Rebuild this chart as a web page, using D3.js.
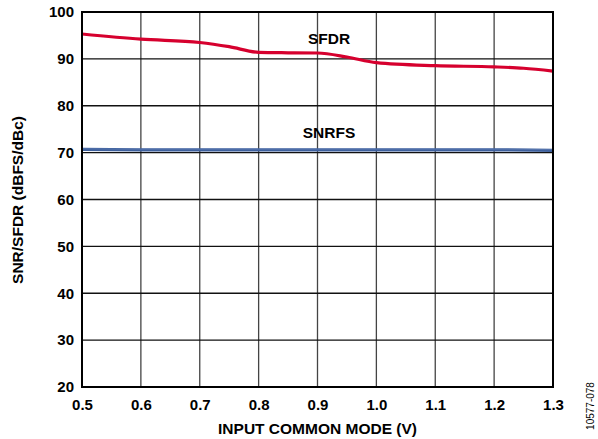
<!DOCTYPE html>
<html><head><meta charset="utf-8">
<script src="https://cdn.jsdelivr.net/npm/d3@7"></script>
<style>body{margin:0;background:#fff}svg{display:block}text{font-family:"Liberation Sans",Arial,sans-serif}</style>
</head><body><svg id="c" width="598" height="439"></svg>
<script>
const xTicks = [0.5,0.6,0.7,0.8,0.9,1.0,1.1,1.2,1.3];
const yTicks = [20,30,40,50,60,70,80,90,100];
const sfdrX = [0.5,0.6,0.7,0.75,0.8,0.85,0.9,0.95,1.0,1.1,1.2,1.25,1.3];
const sfdrY = [95.3,94.2,93.5,92.6,91.4,91.3,91.25,90.4,89.2,88.55,88.3,88.0,87.4];
const snrX = [0.5,0.6,0.7,0.8,0.9,1.0,1.1,1.2,1.3];
const snrY = [70.7,70.6,70.6,70.6,70.6,70.6,70.6,70.6,70.5];

const svg = d3.select("#c");
const L=82,R=553,T=12,B=387;
const x = d3.scaleLinear().domain([0.5,1.3]).range([L,R]);
const y = d3.scaleLinear().domain([20,100]).range([B,T]);

// grid
svg.append("g").selectAll("line").data(xTicks.slice(1,-1)).join("line")
  .attr("x1",d=>x(d)).attr("x2",d=>x(d)).attr("y1",T).attr("y2",B)
  .attr("stroke","#444").attr("stroke-width",1.3);
svg.append("g").selectAll("line").data(yTicks.slice(1,-1)).join("line")
  .attr("x1",L).attr("x2",R).attr("y1",d=>y(d)).attr("y2",d=>y(d))
  .attr("stroke","#111").attr("stroke-width",1.3);

const line = d3.line().curve(d3.curveMonotoneX);
svg.append("path").attr("d",line(snrX.map((v,i)=>[x(v),y(snrY[i])])))
  .attr("fill","none").attr("stroke","#3d5f9c").attr("stroke-width",3.2);
svg.append("path").attr("d",line(snrX.map((v,i)=>[x(v),y(snrY[i])-0.6])))
  .attr("fill","none").attr("stroke","#6f8cc0").attr("stroke-width",0.8).attr("opacity",0.6);
svg.append("path").attr("d",line(sfdrX.map((v,i)=>[x(v),y(sfdrY[i])])))
  .attr("fill","none").attr("stroke","#d6002e").attr("stroke-width",3.2);

svg.append("rect").attr("x",L).attr("y",T).attr("width",R-L).attr("height",B-T)
  .attr("fill","none").attr("stroke","#000").attr("stroke-width",2);

const yAxis = d3.axisLeft(y).tickValues(yTicks).tickSize(0).tickPadding(8).tickFormat(d3.format("d"));
const gy = svg.append("g").attr("transform",`translate(${L},0)`).call(yAxis);
gy.select(".domain").remove();
gy.selectAll("text").attr("font-size","15px").attr("font-weight","bold").attr("fill","#000")
  .attr("font-family","'Liberation Sans',Arial,sans-serif");

const xAxis = d3.axisBottom(x).tickValues(xTicks).tickSize(0).tickPadding(12).tickFormat(d3.format(".1f"));
const gx = svg.append("g").attr("transform",`translate(0,${B})`).call(xAxis);
gx.select(".domain").remove();
gx.selectAll("text").attr("font-size","15px").attr("font-weight","bold").attr("fill","#000")
  .attr("font-family","'Liberation Sans',Arial,sans-serif");

svg.append("text").attr("x",(L+R)/2).attr("y",434).attr("text-anchor","middle")
  .attr("font-size","15.5px").attr("font-weight","bold").text("INPUT COMMON MODE (V)");
svg.append("text").attr("transform","translate(23,200) rotate(-90)").attr("text-anchor","middle")
  .attr("font-size","15.5px").attr("font-weight","bold").text("SNR/SFDR (dBFS/dBc)");
svg.append("text").attr("x",329).attr("y",44).attr("text-anchor","middle")
  .attr("font-size","15.5px").attr("font-weight","bold").text("SFDR");
svg.append("text").attr("x",329).attr("y",138).attr("text-anchor","middle")
  .attr("font-size","15.5px").attr("font-weight","bold").text("SNRFS");
svg.append("text").attr("transform","translate(594,406) rotate(-90)").attr("text-anchor","middle")
  .attr("font-size","10px").text("10577-078");
</script></body></html>
